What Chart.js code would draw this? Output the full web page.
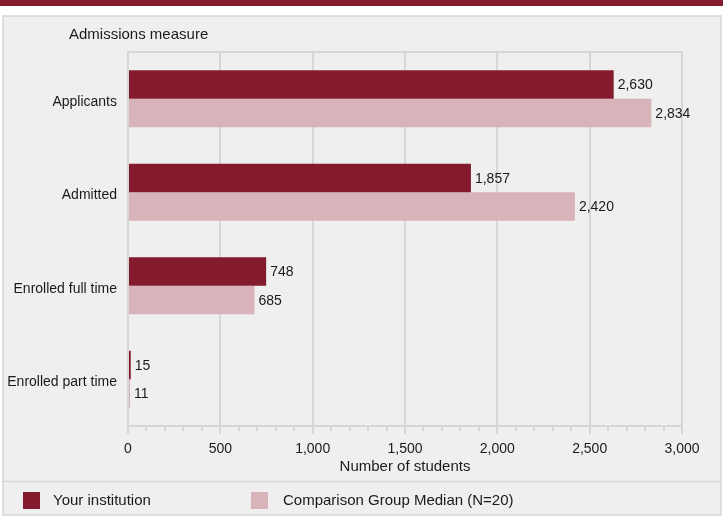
<!DOCTYPE html>
<html>
<head>
<meta charset="utf-8">
<script src="https://cdn.jsdelivr.net/npm/chart.js@4.4.1/dist/chart.umd.min.js"></script>
<style>
  html, body { margin: 0; padding: 0; background: #ffffff; }
  #wrap { width: 723px; height: 516px; position: relative; }
</style>
</head>
<body>
<div id="wrap"><canvas id="c" width="723" height="516"></canvas></div>
<script>
const categories = ["Applicants", "Admitted", "Enrolled full time", "Enrolled part time"];
const yourInstitution = [2630, 1857, 748, 15];
const comparisonMedian = [2834, 2420, 685, 11];
const seriesNames = ["Your institution", "Comparison Group Median (N=20)"];
const xTickValues = [0, 500, 1000, 1500, 2000, 2500, 3000];
const yAxisTitle = "Admissions measure";
const xAxisTitle = "Number of students";

const DARK = "#841a2d";
const LIGHT = "#d8b3b9";
const GRID = "#d6d6d6";
const PANEL = "#efefef";
const TEXT = "#1a1a1a";
const FONT = "'Liberation Sans', Arial, sans-serif";

const fmt = v => v.toLocaleString("en-US");

const decor = {
  id: "decor",
  beforeDraw(chart) {
    const ctx = chart.ctx;
    ctx.save();
    ctx.fillStyle = "#ffffff";
    ctx.fillRect(0, 0, chart.width, chart.height);
    ctx.fillStyle = DARK;
    ctx.fillRect(0, 0, chart.width, 6);
    ctx.fillStyle = PANEL;
    ctx.fillRect(3, 16, 718, 499);
    ctx.strokeStyle = GRID;
    ctx.lineWidth = 1.5;
    ctx.strokeRect(3, 16, 718, 499);
    ctx.beginPath();
    ctx.moveTo(3, 481.5); ctx.lineTo(721, 481.5);
    ctx.stroke();
    ctx.restore();
  },
  afterDraw(chart) {
    const ctx = chart.ctx;
    const a = chart.chartArea;
    const xs = chart.scales.x;
    ctx.save();
    ctx.strokeStyle = GRID;
    ctx.lineWidth = 2;
    // top border of plot
    ctx.beginPath();
    ctx.moveTo(a.left - 1, a.top); ctx.lineTo(a.right + 1, a.top);
    ctx.stroke();
    // longer major tick marks
    xTickValues.forEach(v => {
      const px = Math.round(xs.getPixelForValue(v));
      ctx.beginPath();
      ctx.moveTo(px, a.bottom); ctx.lineTo(px, a.bottom + 8);
      ctx.stroke();
    });
    // y-axis title at top
    ctx.fillStyle = TEXT;
    ctx.font = "15px " + FONT;
    ctx.textBaseline = "middle";
    ctx.textAlign = "left";
    ctx.fillText(yAxisTitle, 69, 35);
    // data labels
    ctx.font = "14px " + FONT;
    chart.data.datasets.forEach((ds, di) => {
      const meta = chart.getDatasetMeta(di);
      meta.data.forEach((bar, i) => {
        ctx.fillText(fmt(ds.data[i]), bar.x + 4, bar.y + 1);
      });
    });
    // legend
    const items = [[23, 53, DARK, seriesNames[0]], [251, 283, LIGHT, seriesNames[1]]];
    ctx.font = "15px " + FONT;
    items.forEach(([bx, tx, col, label]) => {
      ctx.fillStyle = col;
      ctx.fillRect(bx, 492, 17, 17);
      ctx.fillStyle = TEXT;
      ctx.fillText(label, tx, 501);
    });
    ctx.restore();
  }
};

new Chart(document.getElementById("c"), {
  type: "bar",
  data: {
    labels: categories,
    datasets: [
      { label: seriesNames[0], data: yourInstitution, backgroundColor: DARK },
      { label: seriesNames[1], data: comparisonMedian, backgroundColor: LIGHT }
    ]
  },
  options: {
    indexAxis: "y",
    responsive: false,
    animation: false,
    devicePixelRatio: 1,
    layout: { padding: { left: 0, top: 52, right: 41, bottom: 0 } },
    datasets: { bar: { categoryPercentage: 0.61, barPercentage: 1.0 } },
    plugins: { legend: { display: false }, tooltip: { enabled: false } },
    scales: {
      x: {
        min: 0, max: 3000,
        afterFit(s) { s.height = 90; },
        afterBuildTicks(s) {
          const t = [];
          for (let v = 0; v <= 3000; v += 100) t.push({ value: v });
          s.ticks = t;
        },
        ticks: {
          autoSkip: false,
          maxRotation: 0,
          padding: 10,
          color: TEXT,
          font: { family: FONT, size: 14 },
          callback: v => xTickValues.includes(v) ? fmt(v) : ""
        },
        grid: {
          lineWidth: 2,
          color: c => (c.tick && xTickValues.includes(c.tick.value)) ? GRID : "rgba(0,0,0,0)",
          tickColor: GRID,
          tickLength: 5,
          tickWidth: 2
        },
        border: { display: true, color: GRID, width: 2 },
        title: {
          display: true, text: xAxisTitle, color: TEXT,
          font: { family: FONT, size: 15 },
          padding: { top: 0, bottom: 40 }
        }
      },
      y: {
        afterFit(s) { s.width = 128; },
        ticks: {
          padding: 11,
          labelOffset: 3,
          color: TEXT,
          font: { family: FONT, size: 14 }
        },
        grid: { display: false, drawTicks: false },
        border: { display: true, color: GRID, width: 2 }
      }
    }
  },
  plugins: [decor]
});
</script>
</body>
</html>
